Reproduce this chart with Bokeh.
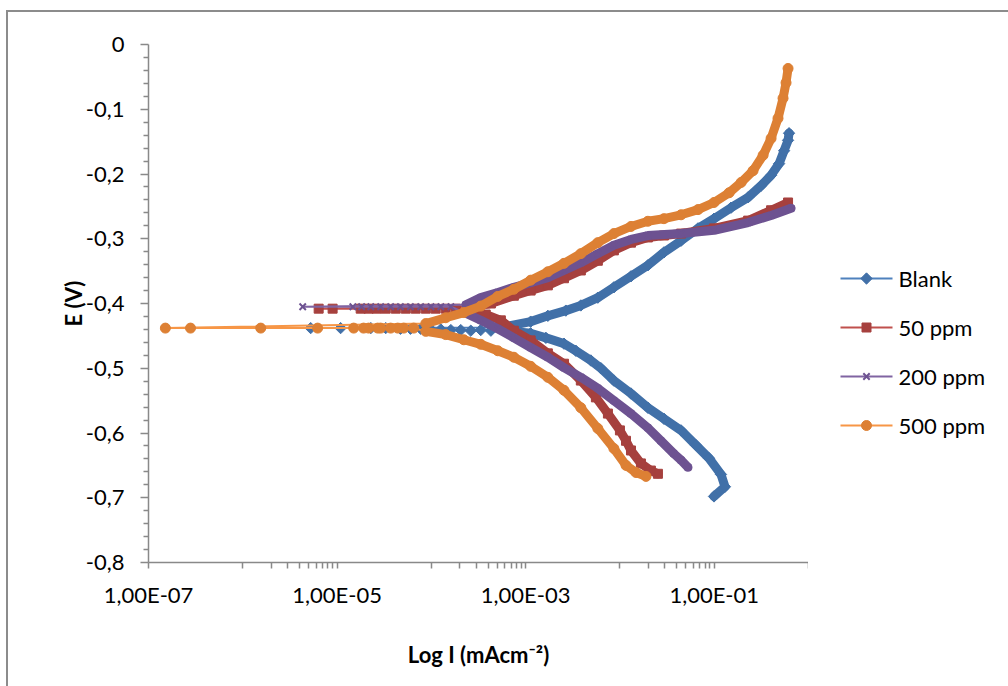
import numpy as np
from bokeh.plotting import figure
from bokeh.layouts import row
from bokeh.models import Range1d, FixedTicker, CustomJSTickFormatter
from bokeh.core.properties import value
from bokeh.embed import file_html
from bokeh.resources import INLINE

# ---------------- data (current in mA cm^-2, potential in V) ----------------
# Blank
blank_cat_i = [0.0995, 0.130, 0.118, 0.0881, 0.0641, 0.0445, 0.0293, 0.0198, 0.0131,
               0.00863, 0.00628, 0.00492, 0.00341, 0.00255, 0.00164, 0.00113, 0.000697]
blank_cat_e = [-0.698, -0.683, -0.664, -0.639, -0.619, -0.596, -0.578, -0.561, -0.539,
               -0.519, -0.500, -0.488, -0.473, -0.462, -0.453, -0.446, -0.443]
blank_corr_i = [4.28e-4, 3.34e-4, 2.62e-4, 2.05e-4, 1.61e-4, 1.26e-4, 9.9e-5, 7.7e-5,
                6.0e-5, 4.7e-5, 3.28e-5, 2.28e-5, 1.09e-5, 5.25e-6]
blank_corr_e = [-0.442, -0.441, -0.442, -0.441, -0.441, -0.440, -0.440, -0.439,
                -0.439, -0.439, -0.438, -0.438, -0.438, -0.438]
blank_an_i = [0.000546, 0.00113, 0.00172, 0.00267, 0.00385, 0.00583, 0.00863, 0.0131,
              0.0198, 0.0293, 0.0445, 0.0673, 0.0995, 0.151, 0.229, 0.314, 0.401,
              0.488, 0.551, 0.607, 0.622]
blank_an_e = [-0.437, -0.428, -0.419, -0.411, -0.403, -0.391, -0.375, -0.358,
              -0.341, -0.321, -0.303, -0.284, -0.269, -0.252, -0.236, -0.218, -0.202,
              -0.184, -0.164, -0.148, -0.137]

# 50 ppm
p50_cat_i = [0.0253, 0.0213, 0.0167, 0.0131, 0.0116, 0.0100, 0.00746, 0.00556, 0.00385,
             0.00255, 0.00172, 0.00113, 0.00075, 0.000546, 0.000377, 0.000262]
p50_cat_e = [-0.663, -0.658, -0.647, -0.627, -0.612, -0.596, -0.570, -0.545, -0.519,
             -0.493, -0.477, -0.457, -0.442, -0.426, -0.417, -0.411]
p50_corr_i = [1.82e-4, 1.42e-4, 1.11e-4, 8.73e-5, 6.82e-5, 5.35e-5, 4.19e-5, 3.28e-5,
              2.63e-5, 2.16e-5, 1.78e-5, 8.97e-6, 6.38e-6]
p50_corr_e = [-0.408, -0.408, -0.408, -0.408, -0.408, -0.408, -0.408, -0.408,
              -0.408, -0.408, -0.408, -0.408, -0.408]
p50_an_i = [0.000262, 0.000428, 0.00075, 0.00113, 0.00172, 0.00255, 0.00385, 0.00583,
            0.00863, 0.0131, 0.0198, 0.0293, 0.0445, 0.0995, 0.229, 0.401, 0.607]
p50_an_e = [-0.405, -0.400, -0.388, -0.380, -0.372, -0.361, -0.349, -0.334,
            -0.318, -0.306, -0.298, -0.295, -0.292, -0.284, -0.272, -0.256, -0.244]

# 200 ppm
p200_cat_i = [0.0527, 0.0445, 0.0374, 0.0272, 0.0198, 0.0131, 0.00863, 0.00583, 0.00385,
              0.00255, 0.00172, 0.00113, 0.00075, 0.000507, 0.000334, 0.000232]
p200_cat_e = [-0.653, -0.642, -0.632, -0.612, -0.592, -0.570, -0.550, -0.531, -0.514,
              -0.499, -0.483, -0.468, -0.453, -0.439, -0.426, -0.415]
p200_corr_i = [1.61e-4, 1.26e-4, 9.9e-5, 7.7e-5, 6.0e-5, 4.7e-5, 3.7e-5, 2.9e-5,
               2.28e-5, 1.82e-5, 1.47e-5, 4.32e-6]
p200_corr_e = [-0.405, -0.405, -0.405, -0.405, -0.405, -0.405, -0.405, -0.405,
               -0.405, -0.405, -0.405, -0.405]
p200_an_i = [0.000232, 0.000334, 0.000507, 0.00075, 0.00113, 0.00172, 0.00255, 0.00385,
             0.00583, 0.00863, 0.0131, 0.0198, 0.0445, 0.0995, 0.229, 0.401, 0.653]
p200_an_e = [-0.402, -0.391, -0.383, -0.375, -0.368, -0.360, -0.349, -0.337,
             -0.323, -0.310, -0.301, -0.295, -0.292, -0.287, -0.275, -0.264, -0.253]

# 500 ppm
p500_cat_i = [0.0189, 0.0148, 0.0116, 0.00863, 0.00583, 0.00385, 0.00255, 0.00172,
              0.00113, 0.00075, 0.000507, 0.000334, 0.000221, 0.000142, 8.73e-5]
p500_cat_e = [-0.667, -0.661, -0.650, -0.624, -0.593, -0.561, -0.534, -0.514,
              -0.497, -0.483, -0.473, -0.463, -0.456, -0.448, -0.443]
p500_corr_i = [6.5e-5, 5.09e-5, 4.4e-5, 3.7e-5, 2.9e-5, 2.7e-5, 2.16e-5, 1.91e-5,
               1.5e-5, 6.22e-6, 1.55e-6, 2.79e-7, 1.51e-7]
p500_corr_e = [-0.438, -0.438, -0.438, -0.438, -0.438, -0.438, -0.438, -0.438,
               -0.438, -0.438, -0.438, -0.438, -0.438]
p500_an_i = [8.73e-5, 0.000142, 0.000221, 0.000334, 0.000507, 0.00075, 0.00113, 0.00172,
             0.00255, 0.00385, 0.00583, 0.00863, 0.0131, 0.0198, 0.0293, 0.0445, 0.0673,
             0.0995, 0.144, 0.193, 0.258, 0.330, 0.401, 0.475, 0.537, 0.578, 0.607]
p500_an_e = [-0.431, -0.422, -0.414, -0.404, -0.389, -0.378, -0.364, -0.351,
             -0.338, -0.323, -0.306, -0.292, -0.281, -0.273, -0.269, -0.263, -0.255,
             -0.244, -0.229, -0.213, -0.195, -0.171, -0.145, -0.114, -0.083, -0.059, -0.037]

series_names = ["Blank", "50 ppm", "200 ppm", "500 ppm"]

x_ticks = [1e-7, 1e-5, 1e-3, 1e-1]
x_tick_labels = ["1,00E-07", "1,00E-05", "1,00E-03", "1,00E-01"]
y_ticks = [-0.8, -0.7, -0.6, -0.5, -0.4, -0.3, -0.2, -0.1, 0.0]
y_tick_labels = ["-0,8", "-0,7", "-0,6", "-0,5", "-0,4", "-0,3", "-0,2", "-0,1", "0"]

# ---------------- styles ----------------
FONT = "Lato"
AX = "#898989"
line_colors = ["#4F81BD", "#C0504D", "#8064A2", "#F79646"]
marker_colors = ["#4170A8", "#A6403E", "#6D5291", "#DD8034"]
marker_kinds = ["diamond", "square", "x", "circle"]


def add_markers(fig, xs, ys, kind, color):
    if kind == "diamond":
        return fig.scatter(xs, ys, marker="square", angle=np.pi / 4, size=8,
                           fill_color=color, line_color=color)
    if kind == "square":
        return fig.scatter(xs, ys, marker="square", size=9, fill_color=color, line_color=color)
    if kind == "x":
        return fig.scatter(xs, ys, marker="x", size=9, line_color=color, line_width=2)
    return fig.scatter(xs, ys, marker="circle", size=10, fill_color=color, line_color=color)


# ---------------- main plot ----------------
p = figure(width=800, height=674, x_axis_type="log",
           x_range=Range1d(1e-7, 1), y_range=Range1d(-0.8, 0),
           output_backend="svg", toolbar_location=None,
           min_border_left=140, min_border_right=0,
           min_border_top=32, min_border_bottom=124)
p.grid.visible = False
p.outline_line_color = None
p.background_fill_color = "white"
p.border_fill_color = "white"

data = [
    (blank_cat_i, blank_cat_e, blank_corr_i, blank_corr_e, blank_an_i, blank_an_e),
    (p50_cat_i, p50_cat_e, p50_corr_i, p50_corr_e, p50_an_i, p50_an_e),
    (p200_cat_i, p200_cat_e, p200_corr_i, p200_corr_e, p200_an_i, p200_an_e),
    (p500_cat_i, p500_cat_e, p500_corr_i, p500_corr_e, p500_an_i, p500_an_e),
]

for (ci, ce, ki, ke, ai, ae), lc, mc, mk in zip(data, line_colors, marker_colors, marker_kinds):
    xs = ci + ki + ai
    ys = ce + ke + ae
    p.line(xs, ys, line_color=lc, line_width=2)
    p.line(ci, ce, line_color=mc, line_width=9, line_join="round", line_cap="round")
    p.line(ai, ae, line_color=mc, line_width=9, line_join="round", line_cap="round")
    add_markers(p, xs, ys, mk, mc)

fmt_code = """
for (let i = 0; i < vals.length; i++) {
  if (Math.abs(vals[i] - tick) <= 1e-6 * Math.abs(vals[i]) + 1e-12) return labels[i];
}
return "";
"""

xa = p.xaxis[0]
xa.ticker = FixedTicker(ticks=x_ticks,
                        minor_ticks=[k * 10.0 ** e for e in (-6, -4, -2) for k in range(1, 10)] + [1.0])
xa.formatter = CustomJSTickFormatter(args=dict(vals=x_ticks, labels=x_tick_labels), code=fmt_code)
xa.axis_label = "Log I (mAcm\u207b\u00b2)"
xa.axis_label_standoff = 30

ya = p.yaxis[0]
ya.ticker = FixedTicker(ticks=y_ticks,
                        minor_ticks=[round(-0.02 * k, 2) for k in range(1, 40) if k % 5])
ya.formatter = CustomJSTickFormatter(args=dict(vals=y_ticks, labels=y_tick_labels), code=fmt_code)
ya.axis_label = "E (V)"
ya.axis_label_standoff = -4

for ax in (xa, ya):
    ax.axis_line_color = AX
    ax.axis_line_width = 1.5
    ax.major_tick_line_color = AX
    ax.minor_tick_line_color = AX
    ax.major_tick_line_width = 1.5
    ax.minor_tick_line_width = 1.5
    ax.major_tick_in = 0
    ax.minor_tick_in = 0
    ax.major_label_text_font = FONT
    ax.major_label_text_font_size = "22px"
    ax.major_label_text_color = "black"
    ax.axis_label_text_font = FONT
    ax.axis_label_text_font_size = "22px"
    ax.axis_label_text_font_style = "bold"
    ax.axis_label_text_color = "black"

xa.major_tick_out = 6
xa.minor_tick_out = 6
xa.major_label_standoff = 12
ya.major_tick_out = 8
ya.minor_tick_out = 5
ya.major_label_standoff = 16

# ---------------- legend panel (drawn as its own small figure) ----------------
# its frame is aligned with the main frame (page y 44..562), so the y range is
# expressed in page pixels
lg = figure(width=200, height=674, x_range=Range1d(0, 200), y_range=Range1d(562, 44),
            output_backend="svg", toolbar_location=None,
            x_axis_location=None, y_axis_location=None,
            min_border_left=0, min_border_right=0,
            min_border_top=32, min_border_bottom=124)
lg.grid.visible = False
lg.outline_line_color = None
lg.background_fill_color = "white"
lg.border_fill_color = "white"

LEG_TOP, LEG_STEP = 278, 49      # layout of the legend entries (pixels)
for i, (name, lc, mc, mk) in enumerate(zip(series_names, line_colors, marker_colors, marker_kinds)):
    yc = LEG_TOP + LEG_STEP * i
    lg.segment(x0=[32], y0=[yc], x1=[84], y1=[yc], line_color=lc, line_width=2)
    add_markers(lg, [58], [yc], mk, mc)
    lg.text(x=[90], y=[yc], text=[name], text_font=value(FONT), text_font_size="22px",
            text_baseline="middle", text_align="left", text_color="black")

layout = row(p, lg, spacing=0)
layout.styles = {"margin-left": "6px", "margin-top": "10px",
                 "border-left": "2px solid #8c8c8c", "border-top": "2px solid #8c8c8c"}

open("out.html", "w").write(file_html(layout, INLINE))
